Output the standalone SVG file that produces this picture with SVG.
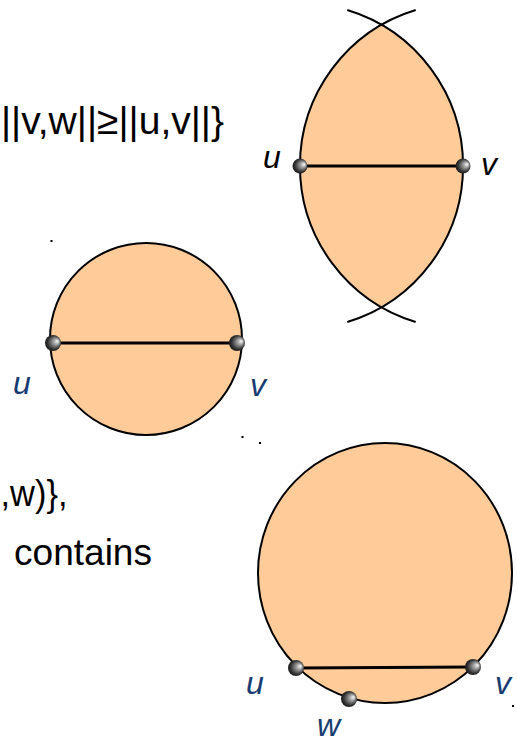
<svg xmlns="http://www.w3.org/2000/svg" width="517" height="742" viewBox="0 0 517 742">
<style>
.txt{font-family:"Liberation Sans",Arial,sans-serif;font-size:37px;fill:#000}
.big{font-size:39px}
.lbl{font-family:"Liberation Sans",Arial,sans-serif;font-size:32px;font-style:italic;fill:#183c72}
.lblk{fill:#000}
.region{fill:#ffcc99;stroke:none}
.outline{fill:none;stroke:#000;stroke-width:2}
.chord{stroke:#000;stroke-width:3;fill:none}
.speck{fill:#000}
</style>
<defs>
<radialGradient id="ball" cx="0.5" cy="0.5" r="0.6" fx="0.8" fy="0.38">
<stop offset="0" stop-color="#ffffff"/>
<stop offset="0.3" stop-color="#a0a0a0"/>
<stop offset="0.7" stop-color="#333333"/>
<stop offset="1" stop-color="#0a0a0a"/>
</radialGradient>
</defs>
<g id="texts">
<text class="txt big" x="224" y="134" text-anchor="end">||v,w||≥||u,v||}</text>
<text class="txt" x="0.5" y="506" textLength="67" lengthAdjust="spacingAndGlyphs">,w)},</text>
<text class="txt" x="152" y="565" text-anchor="end" textLength="138" lengthAdjust="spacingAndGlyphs">contains</text>
</g>
<g id="lune">
<path class="region" d="M381.5,24.8 A163,163 0 0 0 381.5,307.2 A163,163 0 0 0 381.5,24.8 Z"/>
<path class="outline" d="M415.7,10 A163,163 0 0 0 415.7,322"/>
<path class="outline" d="M347.3,10 A163,163 0 0 1 347.3,322"/>
</g>
<g id="disk-uv">
<circle class="region" cx="146" cy="339" r="96"/>
<circle class="outline" cx="146" cy="339" r="96"/>
</g>
<g id="disk-uvw">
<ellipse class="region" cx="385" cy="573" rx="127" ry="130"/>
<ellipse class="outline" cx="385" cy="573" rx="127" ry="130"/>
</g>
<g id="connectors">
<line class="chord" x1="300" y1="166" x2="463" y2="166"/>
<line class="chord" x1="53" y1="343" x2="237" y2="343"/>
<line class="chord" x1="296" y1="668" x2="473" y2="667"/>
</g>
<g id="node-lune-u"><circle cx="300" cy="166" r="7.5" fill="url(#ball)"/><text class="lbl lblk" x="263" y="168">u</text></g>
<g id="node-lune-v"><circle cx="463" cy="166" r="7.5" fill="url(#ball)"/><text class="lbl lblk" x="481" y="175">v</text></g>
<g id="node-disk-u"><circle cx="53" cy="343" r="8" fill="url(#ball)"/><text class="lbl" x="13" y="394">u</text></g>
<g id="node-disk-v"><circle cx="237" cy="343" r="8" fill="url(#ball)"/><text class="lbl" x="250" y="396">v</text></g>
<g id="node-big-u"><circle cx="296" cy="668" r="8" fill="url(#ball)"/><text class="lbl" x="246" y="694">u</text></g>
<g id="node-big-v"><circle cx="473" cy="667" r="8" fill="url(#ball)"/><text class="lbl" x="495" y="694">v</text></g>
<g id="node-big-w"><circle cx="349" cy="699" r="8" fill="url(#ball)"/><text class="lbl" x="317" y="736">w</text></g>
<g id="specks">
<rect class="speck" x="50.5" y="240" width="2" height="2"/>
<rect class="speck" x="241.5" y="436" width="2" height="2"/>
<rect class="speck" x="259" y="442" width="2" height="2"/>
<rect class="speck" x="512" y="705" width="2" height="2"/>
</g>
</svg>
